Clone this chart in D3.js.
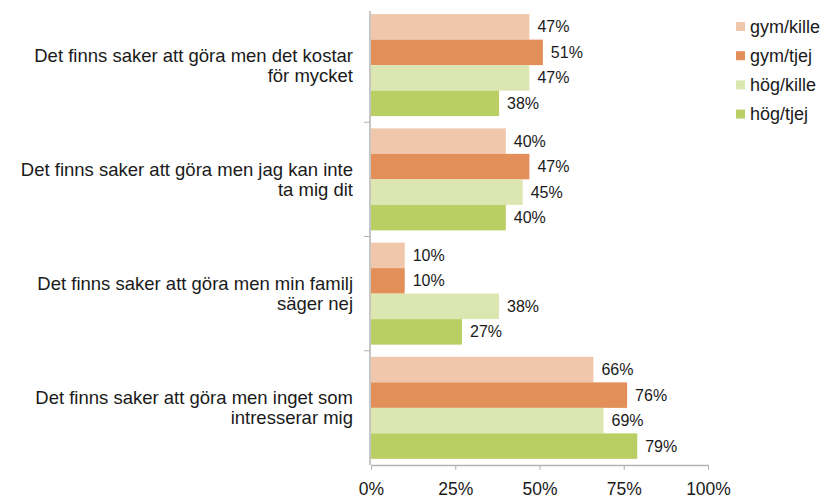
<!DOCTYPE html>
<html>
<head>
<meta charset="utf-8">
<script src="https://cdn.jsdelivr.net/npm/d3@7"></script>
<style>
  body { margin: 0; background: #fff; }
  svg { font-family: "Liberation Sans", Arial, sans-serif; }
</style>
</head>
<body>
<svg id="chart"></svg>
<script>
// categories (each label split into its two lines)
const categories = [
  ["Det finns saker att göra men det kostar", "för mycket"],
  ["Det finns saker att göra men jag kan inte", "ta mig dit"],
  ["Det finns saker att göra men min familj", "säger nej"],
  ["Det finns saker att göra men inget som", "intresserar mig"]
];
const seriesNames = ["gym/kille", "gym/tjej", "hög/kille", "hög/tjej"];
const seriesColors = ["#f0c7aa", "#e28f59", "#dce6b0", "#bacf63"];
const gymKille = [47, 40, 10, 66];
const gymTjej  = [51, 47, 10, 76];
const hogKille = [47, 45, 38, 69];
const hogTjej  = [38, 40, 27, 79];
const xTicks = [0, 25, 50, 75, 100];

const values = [gymKille, gymTjej, hogKille, hogTjej];
const data = categories.map((c, i) => ({
  idx: i,
  label: c,
  vals: seriesNames.map((s, j) => ({series: j, value: values[j][i]}))
}));

const width = 821, height = 496;
const margin = {top: 8, right: 113, bottom: 31, left: 370};

const svg = d3.select("#chart")
  .attr("width", width)
  .attr("height", height);

const x = d3.scaleLinear()
  .domain([0, 100])
  .range([margin.left + 1, 708]);

const y = d3.scaleBand()
  .domain(d3.range(categories.length))
  .range([margin.top, height - margin.bottom])
  .paddingInner(0)
  .paddingOuter(0);

const yInner = d3.scaleBand()
  .domain(d3.range(seriesNames.length))
  .range([0, y.bandwidth()])
  .paddingOuter(0.24)
  .paddingInner(0);

// bars
const groups = svg.append("g")
  .selectAll("g")
  .data(data)
  .join("g")
  .attr("transform", d => `translate(0,${y(d.idx)})`);

groups.selectAll("rect")
  .data(d => d.vals)
  .join("rect")
  .attr("x", x(0))
  .attr("y", d => yInner(d.series))
  .attr("width", d => x(d.value) - x(0))
  .attr("height", yInner.bandwidth())
  .attr("fill", d => seriesColors[d.series]);

groups.selectAll("text.val")
  .data(d => d.vals)
  .join("text")
  .attr("class", "val")
  .attr("x", d => x(d.value) + 8)
  .attr("y", d => yInner(d.series) + yInner.bandwidth() / 2)
  .attr("dy", "0.35em")
  .attr("font-size", "16px")
  .attr("fill", "#1a1a1a")
  .text(d => d.value + "%");

// y axis (categories)
const yAxis = svg.append("g")
  .attr("transform", `translate(${margin.left},0)`);

yAxis.append("line")
  .attr("y1", y.range()[0] + 3)
  .attr("y2", y.range()[1])
  .attr("stroke", "#b3b3b3")
  .attr("stroke-width", 1.5);

yAxis.selectAll("line.tick")
  .data(d3.range(1, categories.length))
  .join("line")
  .attr("class", "tick")
  .attr("x1", -6)
  .attr("x2", 0)
  .attr("y1", d => y(d))
  .attr("y2", d => y(d))
  .attr("stroke", "#b3b3b3");

yAxis.selectAll("text")
  .data(data)
  .join("text")
  .attr("x", -17)
  .attr("y", d => y(d.idx) + y.bandwidth() / 2)
  .attr("text-anchor", "end")
  .attr("font-size", "18.5px")
  .attr("fill", "#1a1a1a")
  .selectAll("tspan")
  .data(d => d.label.map((t, k) => ({t, k, n: d.label.length})))
  .join("tspan")
  .attr("x", -17)
  .attr("dy", d => d.k === 0 ? `${-10 * (d.n - 1) + 6.5}px` : "20px")
  .text(d => d.t);

// x axis
const xAxis = svg.append("g")
  .attr("transform", `translate(0,${height - margin.bottom})`)
  .call(d3.axisBottom(x)
    .tickValues(xTicks)
    .tickFormat(d => d + "%")
    .tickSizeInner(5)
    .tickSizeOuter(0)
    .tickPadding(13));

xAxis.select(".domain").attr("stroke", "#b3b3b3").attr("stroke-width", 1.5);
xAxis.selectAll(".tick line").attr("stroke", "#b3b3b3");
xAxis.selectAll(".tick text")
  .attr("font-size", "17.5px")
  .attr("font-family", "Liberation Sans, Arial, sans-serif")
  .attr("fill", "#1a1a1a");

// legend
const legend = svg.append("g")
  .attr("transform", "translate(736,22)");

const items = legend.selectAll("g")
  .data(seriesNames)
  .join("g")
  .attr("transform", (d, i) => `translate(0,${i * 29.2})`);

items.append("rect")
  .attr("width", 9)
  .attr("height", 9)
  .attr("fill", (d, i) => seriesColors[i]);

items.append("text")
  .attr("x", 14)
  .attr("y", 4.5)
  .attr("dy", "0.35em")
  .attr("font-size", "18px")
  .attr("fill", "#1a1a1a")
  .text(d => d);
</script>
</body>
</html>
